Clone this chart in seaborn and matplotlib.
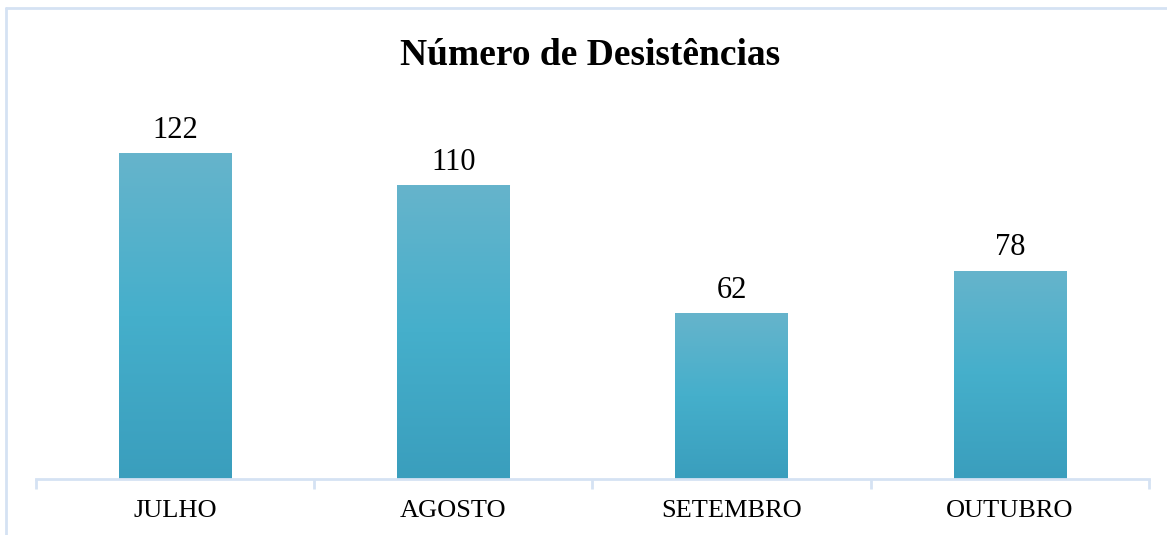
import numpy as np
import pandas as pd
import seaborn as sns
import matplotlib.pyplot as plt
from matplotlib.lines import Line2D
from matplotlib.colors import LinearSegmentedColormap

# dados
meses = ['JULHO', 'AGOSTO', 'SETEMBRO', 'OUTUBRO']
desistencias = [122, 110, 62, 78]

df = pd.DataFrame({'mes': meses, 'valor': desistencias})

sns.set_theme(style='white')
plt.rcParams['font.family'] = ['Liberation Serif', 'DejaVu Serif']

fig = plt.figure(figsize=(11.67, 5.35), dpi=100)
ax = fig.add_axes([0.0308, 0.1047, 0.9538, 0.699])

sns.barplot(data=df, x='mes', y='valor', color='#47AFCB', width=0.405,
            saturation=1, ax=ax)

# gradiente vertical nas barras
cmap = LinearSegmentedColormap.from_list('grad', ['#3A9EBD', '#45AFCB', '#66B4CC'])
grad = np.linspace(0, 1, 256).reshape(-1, 1)
for p in ax.patches:
    x0, y0 = p.get_x(), p.get_y()
    w, h = p.get_width(), p.get_height()
    im = ax.imshow(grad, cmap=cmap, origin='lower', aspect='auto',
                   extent=[x0, x0 + w, y0, y0 + h], zorder=p.get_zorder() + 0.1)
    im.set_clip_path(p)

ax.set_xlim(-0.5, 3.5)
ax.set_ylim(0, 140)
ax.set_xlabel('')
ax.set_ylabel('')
ax.set_yticks([])

ax.bar_label(ax.containers[0], labels=[str(v) for v in desistencias],
             fontsize=22, padding=6, color='#000000')

for s in ['top', 'right', 'left']:
    ax.spines[s].set_visible(False)
ax.spines['bottom'].set_color('#D5E2F3')
ax.spines['bottom'].set_linewidth(2)

ax.set_xticks(np.arange(-0.5, 4, 1), minor=True)
ax.tick_params(axis='x', which='minor', bottom=True, length=7, width=2,
               color='#D5E2F3', direction='out')
ax.tick_params(axis='x', which='major', length=0, pad=15, labelsize=19,
               labelcolor='#000000')

fig.text(0.506, 0.896, 'Número de Desistências', ha='center', va='center',
         fontsize=27, fontweight='bold', color='#000000')

# moldura do grafico (so esquerda e topo visiveis)
fig.add_artist(Line2D([6 / 1167, 6 / 1167], [0, 1 - 8 / 535], color='#D5E2F3',
                      lw=2, transform=fig.transFigure))
fig.add_artist(Line2D([6 / 1167, 1], [1 - 8 / 535, 1 - 8 / 535], color='#D5E2F3',
                      lw=2, transform=fig.transFigure))

fig.savefig('out.png', dpi=100, facecolor='white')
